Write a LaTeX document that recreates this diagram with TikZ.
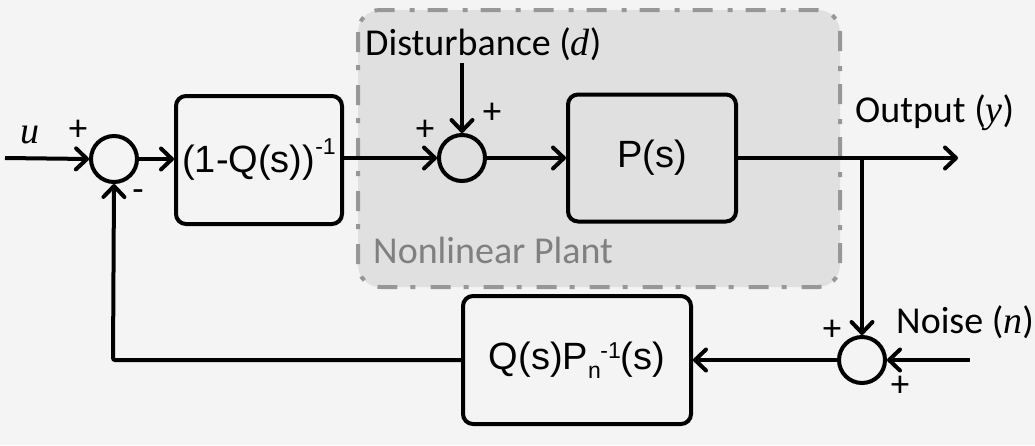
\documentclass[tikz,border=0pt]{standalone}
\usepackage{fontspec}
\setmainfont{Liberation Sans}
\newfontfamily\calfont{Carlito}
\newfontfamily\timfont{Liberation Serif}
\usetikzlibrary{arrows.meta}
\definecolor{bgc}{HTML}{F4F4F4}
\definecolor{plantfill}{HTML}{E0E0E0}
\definecolor{plantline}{HTML}{979797}
\definecolor{planttext}{HTML}{808080}
\newcommand{\arlsz}{\fontsize{38}{40}\selectfont}
\newcommand{\calsz}{\calfont\fontsize{38}{40}\selectfont}
\newcommand{\sgnsz}{\calfont\fontsize{37}{38}\selectfont}
\newcommand{\supx}[2]{\raisebox{#1}{\fontsize{23}{24}\selectfont #2}}
\newcommand{\vv}[1]{{\timfont\itshape #1}}
\begin{document}
\begin{tikzpicture}[x=1pt,y=-1pt,
  blk/.style={draw, line width=4pt, rounded corners=10pt, inner sep=0pt, font=\arlsz},
  sumc/.style={draw, circle, line width=4pt, minimum size=46pt, inner sep=0pt},
  arr/.style={line width=4pt, -{Straight Barb[length=11pt,width=21pt,line width=4pt,round]}},
  lbl/.style={inner sep=0pt, anchor=base west},
  sg/.style={inner sep=0pt, font=\sgnsz}]
\fill[bgc] (0,0) rectangle (1035,445);
\useasboundingbox (0,0) rectangle (1035,445);
% plant region
\draw[plantline, fill=plantfill, line width=4pt, rounded corners=22pt,
  dash pattern=on 20pt off 13pt on 5pt off 15pt] (358,10) rectangle (840,287);
\node[lbl, text=planttext, font=\calsz] (npl) at (373,263) {Nonlinear Plant};
% blocks
\node[blk, minimum width=166pt, minimum height=128pt] (b1) at (259,160)
  {(1-Q(s))\supx{18pt}{-1}};
\node[blk, minimum width=168pt, minimum height=127pt] (bp) at (652,158) {P(s)};
\node[blk, minimum width=228pt, minimum height=128pt] (bq) at (577,360)
  {Q(s)P\supx{-9pt}{n}\kern-0.5pt\supx{11pt}{-1}(s)};
% sums
\node[sumc] (s1) at (114,159) {};
\node[sumc] (s2) at (462,158) {};
\node[sumc] (s3) at (862,360) {};
% free ends
\coordinate (uin) at (5,158);
\coordinate (dz) at (462,63);
\coordinate (yout) at (958,158);
\coordinate (br) at (862,158);
\coordinate (nz) at (970,360);
\coordinate (fbc) at (113,360);
% texts
\node[lbl, font=\arlsz] (ul) at (20,143) {\vv{u}};
\node[lbl, font=\calsz] (dl) at (365,55) {Disturbance (\vv{d})};
\node[lbl, font=\calsz] (yl) at (855,122) {Output (\vv{y})};
\node[lbl, font=\calsz] (nl) at (896,333) {Noise (\vv{n})};
% signs
\node[sg] (p1) at (78,130) {+};
\node[sg] (m1) at (138,196) {-};
\node[sg] (p2) at (425,130) {+};
\node[sg] (p3) at (492,113) {+};
\node[sg] (p4) at (832,330) {+};
\node[sg] (p5) at (900,386) {+};
% connectors
\draw[arr] (uin) -- (s1.west);
\draw[arr] (s1.east) -- (s1.east -| b1.west);
\draw[arr] (b1.east |- s2.west) -- (s2.west);
\draw[arr] (dz) -- (s2.north);
\draw[arr] (s2.east) -- (bp.west);
\draw[arr] (bp.east) -- (yout);
\draw[arr] (br) -- (s3.north);
\draw[arr] (nz) -- (s3.east);
\draw[arr] (s3.west) -- (bq.east);
\draw[arr, rounded corners=2pt] (bq.west) -- (fbc) -- (s1.south);
\end{tikzpicture}
\end{document}
